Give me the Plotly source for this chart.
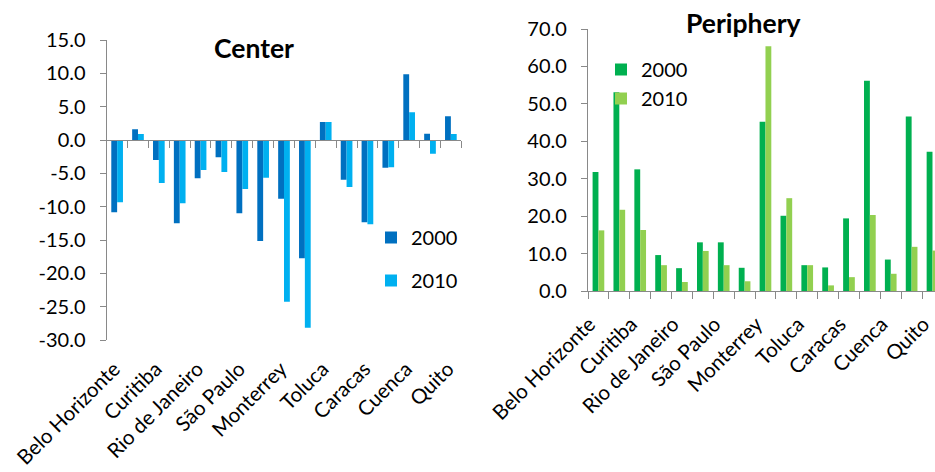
import plotly.graph_objects as go

W, H = 935, 472

# ---- data ----
positions = list(range(17))                 # 17 cities per panel
label_positions = list(range(0, 17, 2))     # only every other city is labelled
city_labels = ["Belo Horizonte", "Curitiba", "Rio de Janeiro", "São Paulo",
               "Monterrey", "Toluca", "Caracas", "Cuenca", "Quito"]
years = ["2000", "2010"]

center_2000 = [-10.85, 1.6, -3.0, -12.5, -5.75, -2.6, -11.0, -15.15, -8.8,
               -17.75, 2.7, -5.95, -12.35, -4.15, 9.85, 0.95, 3.55]
center_2010 = [-9.35, 0.9, -6.45, -9.5, -4.5, -4.8, -7.35, -5.65, -24.25,
               -28.15, 2.7, -7.05, -12.65, -4.1, 4.15, -2.05, 0.9]

periphery_2000 = [31.8, 53.1, 32.5, 9.6, 6.1, 13.0, 13.0, 6.2, 45.2,
                  20.1, 6.9, 6.3, 19.4, 56.2, 8.4, 46.6, 37.2]
periphery_2010 = [16.2, 21.7, 16.3, 6.9, 2.4, 10.7, 6.9, 2.6, 65.4,
                  24.8, 6.9, 1.5, 3.7, 20.3, 4.6, 11.8, 10.8]

center_yticks = [15, 10, 5, 0, -5, -10, -15, -20, -25, -30]
periphery_yticks = [0, 10, 20, 30, 40, 50, 60, 70]

# ---- style ----
FONT = "Lato"
AX = "#898989"
C_2000, C_2010 = "#0070C0", "#00B0F0"
P_2000, P_2010 = "#00B050", "#92D050"

def px_x(p):
    return p / W

def px_y(p):
    return 1 - p / H

c_ymin, c_ymax = min(center_yticks), max(center_yticks)
c_dom = [px_y(340), px_y(40)]
zero_pos = c_dom[0] + (0 - c_ymin) / (c_ymax - c_ymin) * (c_dom[1] - c_dom[0])
boundaries = [p - 0.5 for p in positions] + [positions[-1] + 0.5]

fig = go.Figure()
fig.add_bar(x=positions, y=center_2000, name=years[0], marker_color=C_2000,
            marker_line_width=0, xaxis="x", yaxis="y", legend="legend",
            legendgroup="c0")
fig.add_bar(x=positions, y=center_2010, name=years[1], marker_color=C_2010,
            marker_line_width=0, xaxis="x", yaxis="y", legend="legend",
            legendgroup="c1")
fig.add_bar(x=positions, y=periphery_2000, name=years[0], marker_color=P_2000,
            marker_line_width=0, xaxis="x2", yaxis="y2", legend="legend2",
            legendgroup="p0")
fig.add_bar(x=positions, y=periphery_2010, name=years[1], marker_color=P_2010,
            marker_line_width=0, xaxis="x2", yaxis="y2", legend="legend2",
            legendgroup="p1")
# invisible helper trace for the left label axis
fig.add_scatter(x=[positions[0]], y=[None], xaxis="x3", yaxis="y",
                showlegend=False, hoverinfo="skip", mode="markers")

tickfont = dict(family=FONT, size=20, color="black")
labelfont = dict(family=FONT, size=20.5, color="black")

fig.update_layout(
    width=W, height=H, autosize=False,
    margin=dict(l=0, r=0, t=0, b=0, autoexpand=False),
    paper_bgcolor="white", plot_bgcolor="white",
    barmode="group", bargap=0.44, bargroupgap=0,
    font=dict(family=FONT, size=20, color="black"),
    xaxis=dict(domain=[px_x(106.7), px_x(461.3)], range=[-0.5, 16.5],
               anchor="free", position=zero_pos, automargin=False,
               showline=True, linecolor=AX, linewidth=1.3,
               showgrid=False, zeroline=False, showticklabels=False,
               tickmode="array", tickvals=[], ticks="",
               minor=dict(tickmode="array", tickvals=boundaries, ticks="outside",
                          ticklen=7, tickcolor=AX, tickwidth=1.3, showgrid=False)),
    xaxis3=dict(overlaying="x", matches="x", anchor="y", side="bottom",
                automargin=False, showline=False, showgrid=False, zeroline=False,
                tickmode="array", tickvals=label_positions, ticktext=city_labels,
                tickangle=-45, ticks="", ticklabelstandoff=12, ticklabelshift=-3,
                tickfont=labelfont, ticklabeloverflow="allow"),
    yaxis=dict(domain=c_dom, range=[c_ymin, c_ymax], anchor="x", automargin=False,
               showline=True, linecolor=AX, linewidth=1.3,
               showgrid=False, zeroline=False,
               tickmode="array", tickvals=center_yticks,
               ticktext=[f"{v:.1f}" for v in center_yticks],
               ticks="outside", ticklen=6, tickcolor=AX, tickwidth=1.3,
               ticklabelstandoff=10, tickfont=tickfont),
    xaxis2=dict(domain=[px_x(588), 1.0], range=[-0.5, 16.12], anchor="y2",
                automargin=False, showline=True, linecolor=AX, linewidth=1.3,
                showgrid=False, zeroline=False,
                tickmode="array", tickvals=label_positions, ticktext=city_labels,
                tickangle=-45, ticks="", ticklabelstandoff=12, ticklabelshift=-9,
                tickfont=labelfont, ticklabeloverflow="allow",
                minor=dict(tickmode="array", tickvals=boundaries, ticks="outside",
                           ticklen=7, tickcolor=AX, tickwidth=1.3, showgrid=False)),
    yaxis2=dict(domain=[px_y(291), px_y(29)], range=[0, 70], anchor="x2",
                automargin=False, showline=True, linecolor=AX, linewidth=1.3,
                showgrid=False, zeroline=False,
                tickmode="array", tickvals=periphery_yticks,
                ticktext=[f"{v:.1f}" for v in periphery_yticks],
                ticks="outside", ticklen=6, tickcolor=AX, tickwidth=1.3,
                ticklabelstandoff=10, tickfont=tickfont),
    legend=dict(x=px_x(371), y=px_y(218), xanchor="left", yanchor="top",
                bgcolor="rgba(0,0,0,0)", font=dict(family=FONT, size=20),
                tracegroupgap=14, traceorder="grouped"),
    legend2=dict(x=px_x(601), y=px_y(50), xanchor="left", yanchor="top",
                 bgcolor="rgba(0,0,0,0)", font=dict(family=FONT, size=20),
                 tracegroupgap=0, traceorder="grouped"),
    annotations=[
        dict(text="<b>Center</b>", x=px_x(253.5), y=px_y(48), xref="paper",
             yref="paper", xanchor="center", yanchor="middle", showarrow=False,
             font=dict(family=FONT, size=26.5, color="black")),
        dict(text="<b>Periphery</b>", x=px_x(743), y=px_y(23), xref="paper",
             yref="paper", xanchor="center", yanchor="middle", showarrow=False,
             font=dict(family=FONT, size=26.5, color="black")),
    ],
)

fig.write_html("out.html")
